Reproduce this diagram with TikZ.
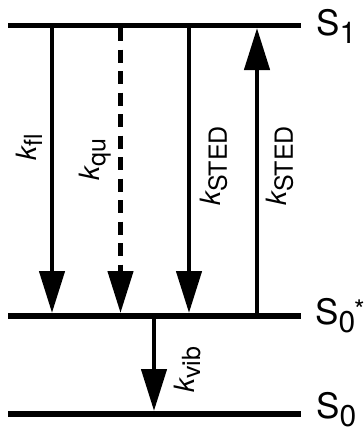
\documentclass[tikz,border=0pt]{standalone}
\usepackage{fontspec}
\setmainfont{TeX Gyre Heros}
\usetikzlibrary{arrows.meta}
\newcommand{\klab}[1]{{\fontsize{28}{28}\selectfont\itshape k}\raisebox{-6pt}{\fontsize{25}{25}\selectfont #1}}
\newcommand{\slab}[2]{{\fontsize{35}{35}\selectfont S}\raisebox{-8pt}{\fontsize{30}{30}\selectfont #1}#2}
\begin{document}
\begin{tikzpicture}[x=1pt,y=-1pt,
  level/.style={line width=5.6pt},
  arr/.style={line width=4.5pt,-{Triangle[length=42pt,width=25pt]}},
  dasharr/.style={arr,dash pattern=on 13pt off 8.5pt},
  lab/.style={inner sep=0pt,rotate=90},
  slabel/.style={inner sep=0pt,anchor=west}]
\useasboundingbox (0,0) rectangle (364,432);
% levels
\coordinate (s1l) at (8,25.5);  \coordinate (s1r) at (301,25.5);
\coordinate (s0sl) at (8,316);  \coordinate (s0sr) at (301,316);
\coordinate (s0l) at (8,414);   \coordinate (s0r) at (301,414);
\draw[level] (s1l) -- (s1r);
\draw[level] (s0sl) -- (s0sr);
\draw[level] (s0l) -- (s0r);
\node[slabel] (S1) at (316,26) {\slab{1}{}};
\node[slabel] (S0s) at (315,316) {\slab{0}{\kern-1pt\raisebox{5pt}{\fontsize{27}{27}\selectfont *}}};
\node[slabel] (S0) at (316,409.5) {\slab{0}{}};
% arrow ends
\coordinate (fl1) at (52,25.5);   \coordinate (fl2) at (52,313);
\coordinate (qu1) at (120.5,28);  \coordinate (qu2) at (120.5,313);
\coordinate (st1) at (189,25.5);  \coordinate (st2) at (189,313);
\coordinate (up1) at (257,316);   \coordinate (up2) at (257,28);
\coordinate (vb1) at (154,316);   \coordinate (vb2) at (154,411);
\draw[arr] (fl1) -- (fl2);
\draw[dasharr] (qu1) -- (qu2);
\draw[arr] (st1) -- (st2);
\draw[arr] (up1) -- (up2);
\draw[arr] (vb1) -- (vb2);
% labels
\node[lab] (kfl) at (29,147) {\klab{fl}};
\node[lab] (kqu) at (95,160) {\klab{qu}};
\node[lab] (ks1) at (214,166) {\klab{STED}};
\node[lab] (ks2) at (280,166) {\klab{STED}};
\node[lab] (kvib) at (187,370) {\klab{vib}};
\end{tikzpicture}
\end{document}
